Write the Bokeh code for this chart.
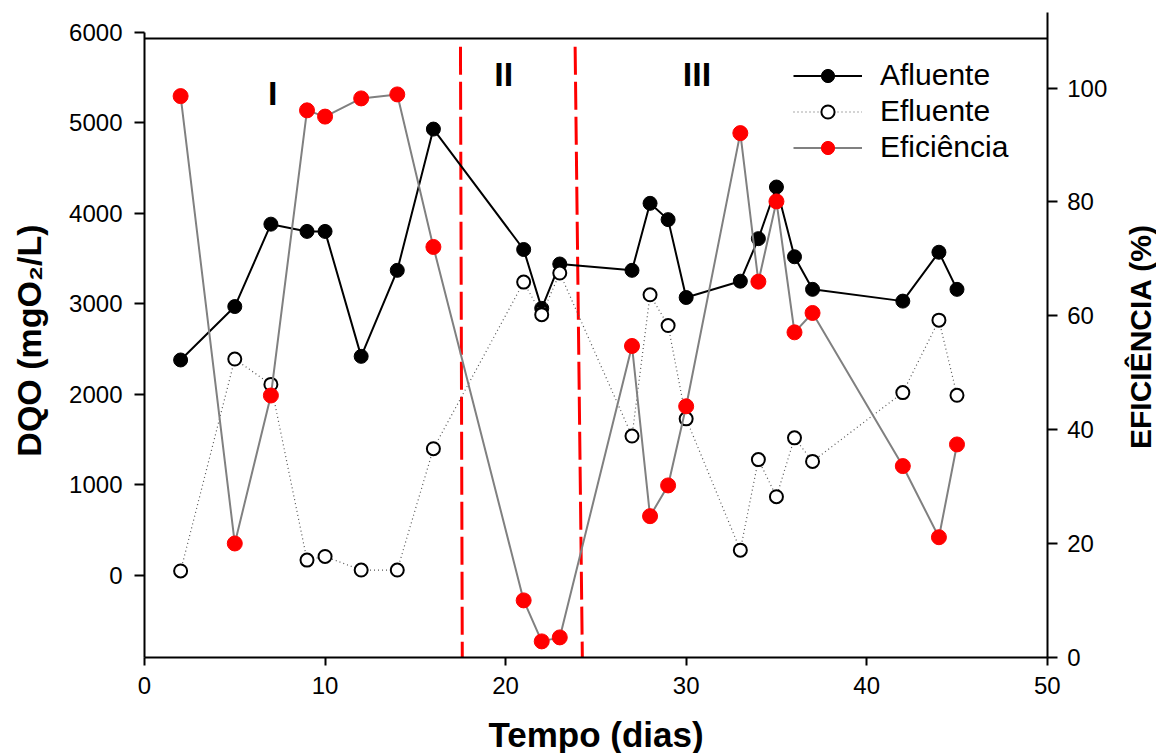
from bokeh.plotting import figure
from bokeh.models import LinearAxis, Range1d, FixedTicker, Legend, LegendItem, Label
from bokeh.core.properties import value
from bokeh.embed import file_html
from bokeh.resources import INLINE

# Sampling days and COD results
dias = [2, 5, 7, 9, 10, 12, 14, 16, 21, 22, 23, 27, 28, 29, 30, 33, 34, 35, 36, 37, 42, 44, 45]
afluente = [2380, 2970, 3880, 3800, 3800, 2420, 3370, 4930, 3600, 2950, 3440,
            3370, 4110, 3930, 3070, 3250, 3720, 4290, 3520, 3160, 3030, 3570, 3160]
efluente = [50, 2390, 2110, 170, 210, 60, 60, 1400, 3240, 2880, 3340,
            1540, 3100, 2760, 1730, 280, 1280, 870, 1520, 1260, 2020, 2820, 1990]
eficiencia = [98.6, 20.0, 46.0, 96.1, 95.0, 98.2, 98.9, 72.1, 10.0, 2.8, 3.5,
              54.7, 24.8, 30.2, 44.1, 92.1, 66.0, 80.1, 57.1, 60.5, 33.6, 21.1, 37.4]

# Operating phases: boundary days (top / bottom of the marker line) and labels
fase_limite_topo = [17.5, 23.85]
fase_limite_base = [17.6, 24.25]
fases = ["I", "II", "III"]
fase_x = [7.1, 19.9, 30.6]
fase_y = [5330, 5540, 5540]

x_ticks = [0, 10, 20, 30, 40, 50]
dqo_ticks = [0, 1000, 2000, 3000, 4000, 5000, 6000]
ef_ticks = [0, 20, 40, 60, 80, 100]

FONT = "Liberation Sans"

# Axis extents (data units); the plotting frame covers the whole canvas and the
# axes sit at fixed locations inside it, leaving room for ticks and titles
X_MIN, X_MAX = 0, 50
DQO_MIN, DQO_MAX = -902, 6000
EF_MIN, EF_AXIS_TOP = 0, 113.3
TOP_LINE = 5927

p = figure(width=1156, height=753,
           x_range=Range1d(-7.976, 56.05), y_range=Range1d(-1966, 6350),
           output_backend="svg", toolbar_location=None,
           min_border_left=0, min_border_right=0,
           min_border_top=0, min_border_bottom=0,
           x_axis_label="Tempo (dias)")
p.extra_y_ranges = {"ef": Range1d(-16.9, 115.4)}
p.grid.visible = False
p.outline_line_color = None
p.background_fill_color = "white"
p.border_fill_color = "white"

xax = p.xaxis[0]
yax = p.yaxis[0]
xax.fixed_location = DQO_MIN
xax.bounds = (X_MIN, X_MAX)
yax.fixed_location = X_MIN
yax.bounds = (DQO_MIN, DQO_MAX)

right = LinearAxis(y_range_name="ef", fixed_location=X_MAX, bounds=(EF_MIN, EF_AXIS_TOP))
p.add_layout(right, "right")

# Plain line closing the top of the plotting area
top = LinearAxis(fixed_location=TOP_LINE, bounds=(X_MIN, X_MAX), ticker=FixedTicker(ticks=[]),
                 major_tick_line_color=None, minor_tick_line_color=None,
                 axis_line_width=2, axis_line_color="black")
p.add_layout(top, "above")

xax.ticker = FixedTicker(ticks=x_ticks)
yax.ticker = FixedTicker(ticks=dqo_ticks)
right.ticker = FixedTicker(ticks=ef_ticks)

for ax in [xax, yax, right]:
    ax.axis_line_width = 2
    ax.axis_line_color = "black"
    ax.major_tick_line_width = 2
    ax.major_tick_out = 10
    ax.major_tick_in = 0
    ax.minor_tick_line_color = None
    ax.major_label_text_font = FONT
    ax.major_label_text_font_size = "24px"
    ax.major_label_text_color = "black"
    ax.axis_label_text_font = FONT
    ax.axis_label_text_font_style = "bold"
    ax.axis_label_text_color = "black"

xax.major_tick_out = 8
xax.major_label_standoff = 12
xax.axis_label_text_font_size = "35px"
xax.axis_label_standoff = 17
yax.major_label_standoff = 12
right.major_label_standoff = 10

# Vertical axis titles, reading bottom to top
title_style = dict(x_units="screen", y_units="screen", angle=90, angle_units="deg",
                   text_font=FONT, text_font_style="bold", text_color="black",
                   text_align="center", text_baseline="middle")
p.add_layout(Label(x=28.5, y=413, text="DQO (mgO\u2082/L)", text_font_size="34px", **title_style))
p.add_layout(Label(x=1139.5, y=417, text="EFICIÊNCIA (%)", text_font_size="30px", **title_style))

# Phase boundaries
p.segment(x0=fase_limite_topo, y0=[5840] * len(fase_limite_topo),
          x1=fase_limite_base, y1=[DQO_MIN] * len(fase_limite_base),
          line_color="red", line_width=3, line_dash="28 7")

afl_line = p.line(dias, afluente, line_color="black", line_width=2)
afl_pts = p.scatter(dias, afluente, size=14, fill_color="black", line_color="black")

efl_line = p.line(dias, efluente, line_color="#555555", line_width=1.2, line_dash="1 3")
efl_pts = p.scatter(dias, efluente, size=13, fill_color="white", line_color="black", line_width=2)

efi_line = p.line(dias, eficiencia, y_range_name="ef", line_color="#808080", line_width=2)
efi_pts = p.scatter(dias, eficiencia, y_range_name="ef", size=15,
                    fill_color="#ff0000", line_color="#ff0000")

p.text(x=fase_x, y=fase_y, text=fases, text_font=value(FONT), text_font_style="bold",
       text_font_size="34px", text_align="center", text_baseline="middle", text_color="black")

legend = Legend(items=[
    LegendItem(label="Afluente", renderers=[afl_line, afl_pts]),
    LegendItem(label="Efluente", renderers=[efl_line, efl_pts]),
    LegendItem(label="Eficiência", renderers=[efi_line, efi_pts]),
], location=(793, 589))
legend.label_text_font = FONT
legend.label_text_font_size = "30px"
legend.label_text_color = "black"
legend.glyph_width = 69
legend.glyph_height = 33
legend.label_height = 33
legend.spacing = 2
legend.padding = 0
legend.margin = 0
legend.label_standoff = 18
legend.border_line_color = None
legend.background_fill_alpha = 0
p.add_layout(legend)

open("out.html", "w").write(file_html(p, INLINE))
